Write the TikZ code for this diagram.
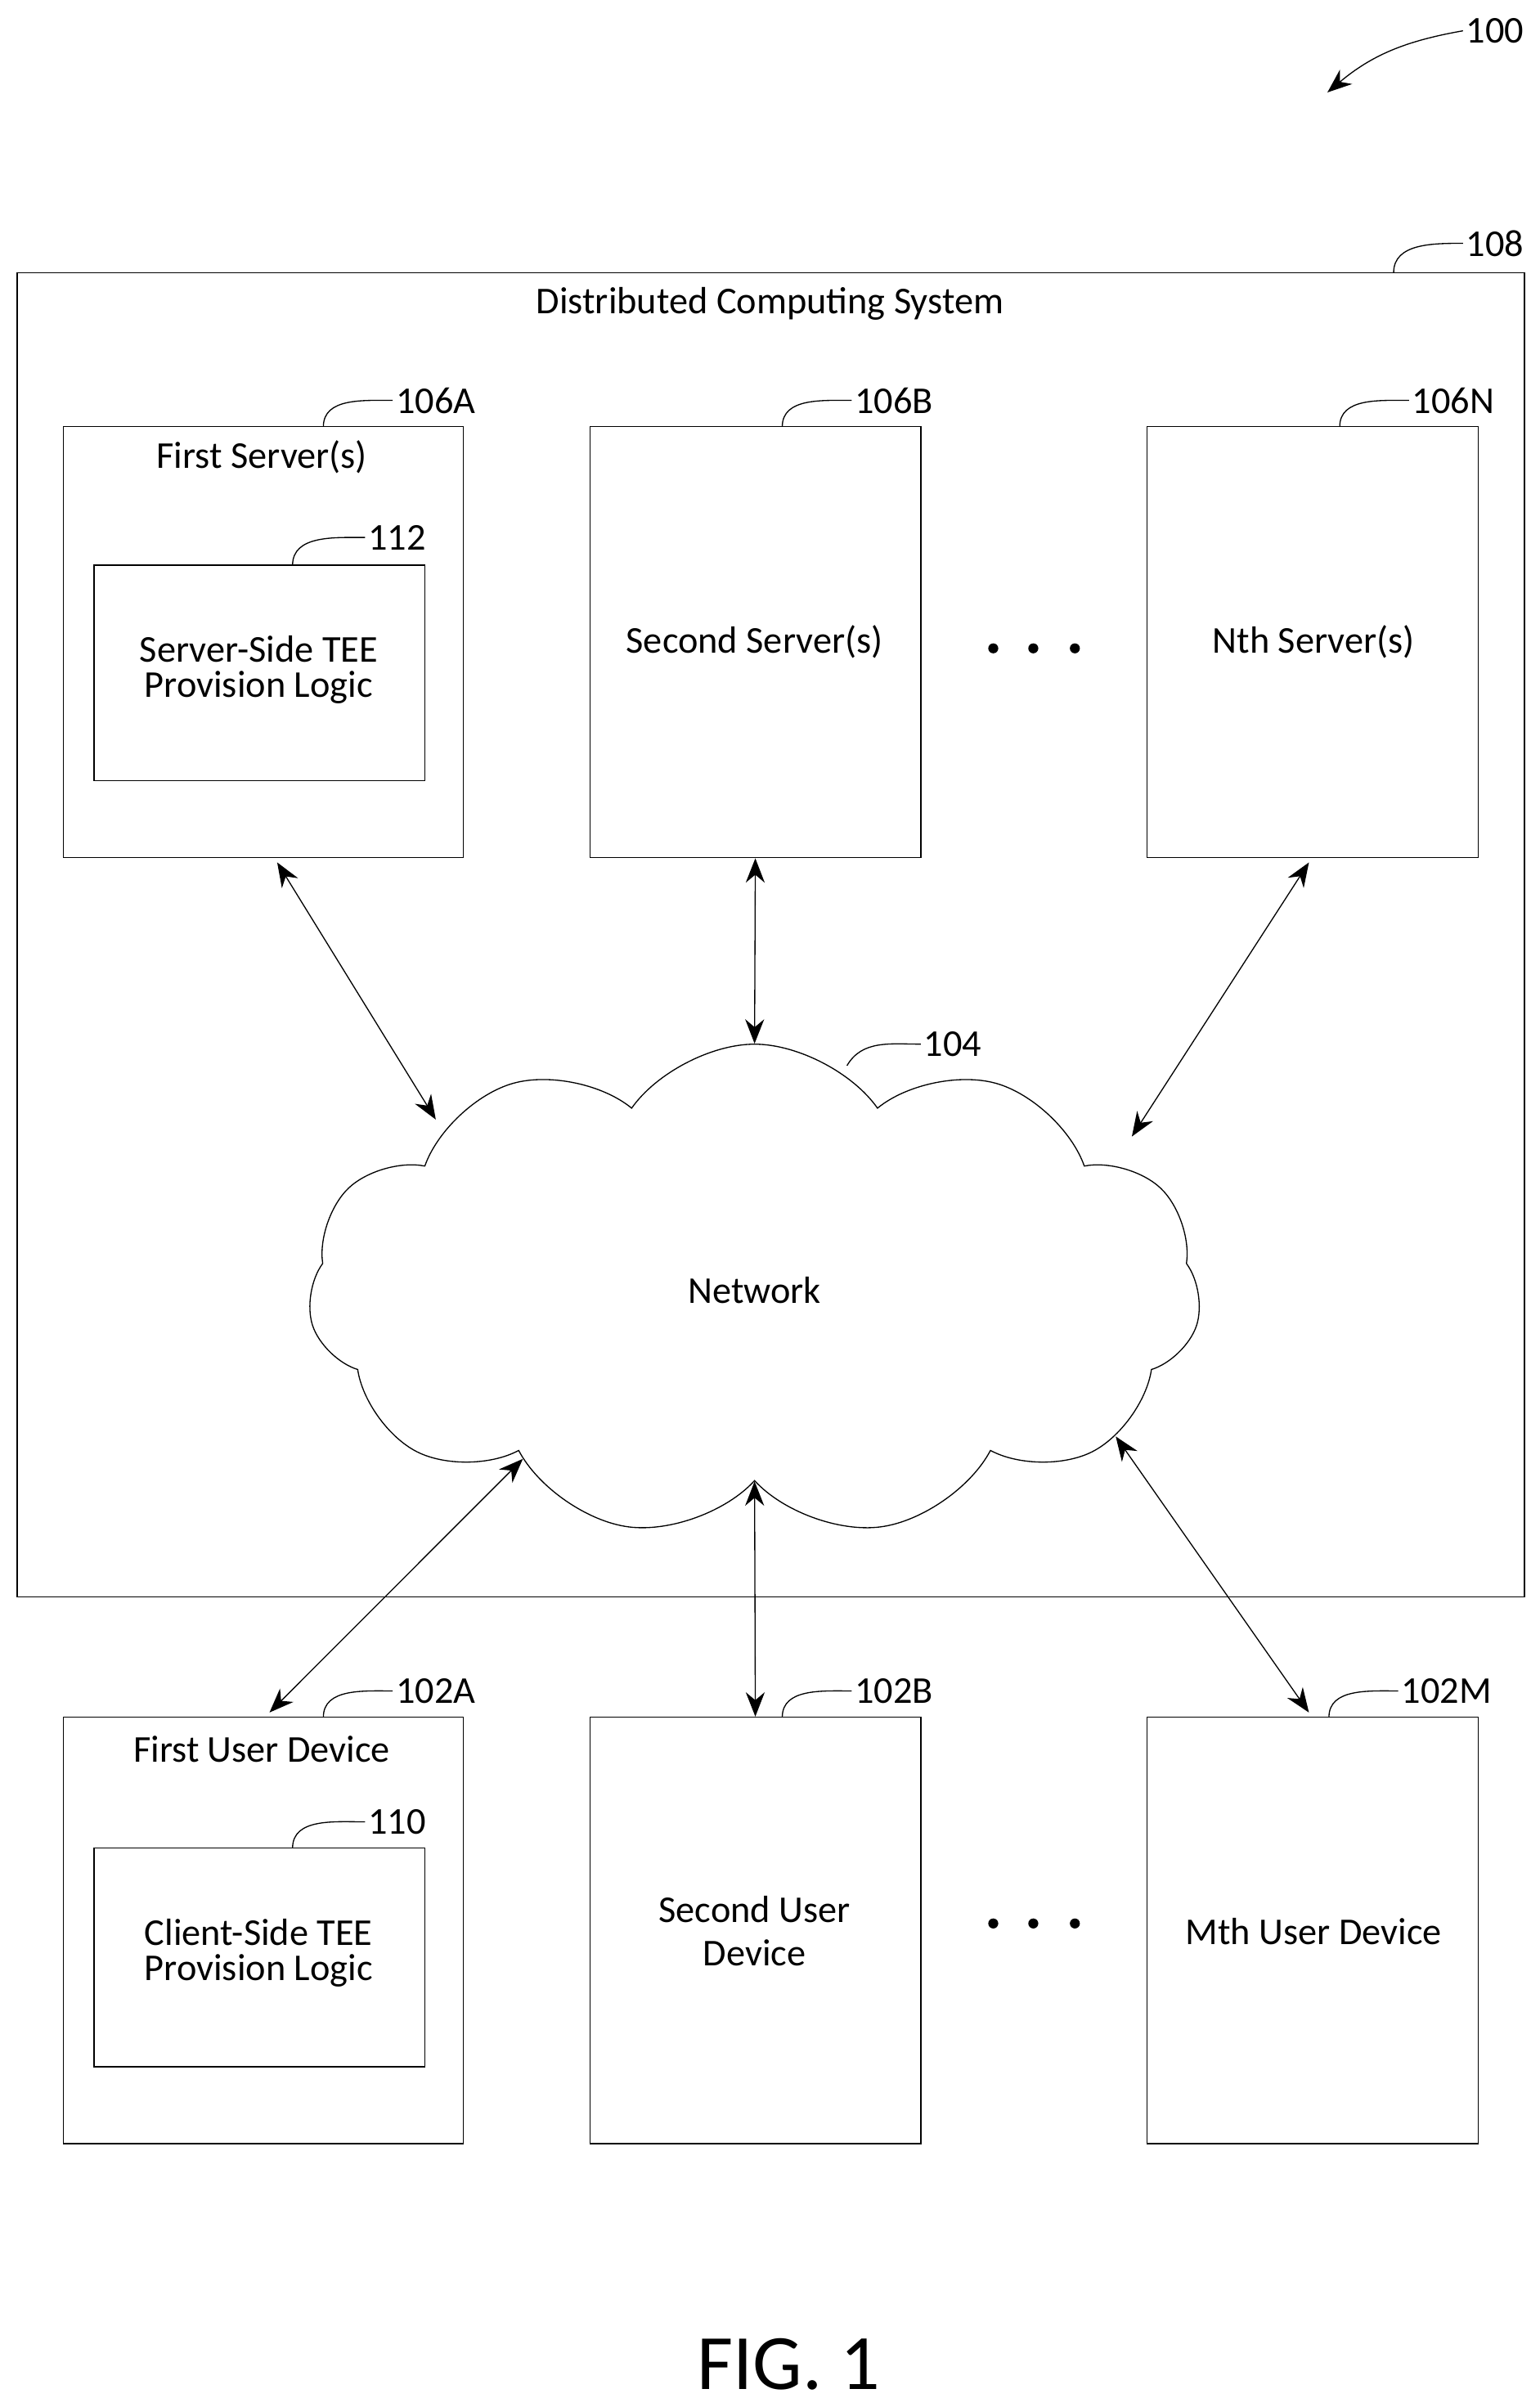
\documentclass[tikz,border=0pt]{standalone}
\usepackage{fontspec}
\setmainfont{Carlito}
\usetikzlibrary{arrows.meta, shapes.symbols}
\tikzset{
    box/.style={draw, thin, inner sep=0pt},
    txt/.style={font=\fontsize{14}{16}\selectfont, align=center},
    ref/.style={font=\fontsize{14}{16}\selectfont, anchor=west, inner sep=1pt},
    link/.style={thin, {Stealth[length=9pt,width=7pt]}-{Stealth[length=9pt,width=7pt]}},
    lead/.style={thin},
    dot/.style={circle, fill, inner sep=0pt, minimum size=0.13cm},
}
\begin{document}
\begin{tikzpicture}[x=0.02cm, y=-0.02cm]
    \useasboundingbox (0,0) rectangle (1000,1563);

    % outer system
    \node[box, minimum width=19.58cm, minimum height=17.2cm] (sys) at (500.5,607) {};
    \node[txt] (systxt) at (500,197) {Distributed Computing System};
    \coordinate (sysref) at (905,177);
    \node[ref] (sysnum) at (950,158) {108};
    \draw[lead] (sysref) to[out=90,in=180] (sysnum.west);

    % servers
    \node[box, minimum width=5.2cm, minimum height=5.6cm] (srvA) at (171,417) {};
    \node[txt] at (170,297) {First Server(s)};
    \node[box, minimum width=4.3cm, minimum height=2.8cm] (tees) at (168.5,437) {};
    \node[txt] at (168,435) {Server-Side TEE\\[-3pt]Provision Logic};
    \node[box, minimum width=4.3cm, minimum height=5.6cm] (srvB) at (490.5,417) {};
    \node[txt] at (490,417) {Second Server(s)};
    \node[box, minimum width=4.3cm, minimum height=5.6cm] (srvN) at (852.5,417) {};
    \node[txt] at (853,417) {Nth Server(s)};
    \foreach \x in {645,671,698}
        \node[dot] at (\x,421) {};

    \node[ref] (srvAnum) at (255,260) {106A};
    \draw[lead] (210,277) to[out=90,in=180] (srvAnum.west);
    \node[ref] (teesnum) at (237,349) {112};
    \draw[lead] (190,367) to[out=90,in=180] (teesnum.west);
    \node[ref] (srvBnum) at (553,260) {106B};
    \draw[lead] (508,277) to[out=90,in=180] (srvBnum.west);
    \node[ref] (srvNnum) at (915,260) {106N};
    \draw[lead] (870,277) to[out=90,in=180] (srvNnum.west);

    % network
    \node[cloud, draw, thin, cloud puffs=11, cloud puff arc=110, aspect=1.9,
        minimum width=11.6cm, minimum height=6.4cm] (net) at (490,838) {};
    \node[txt] at (490,838) {Network};
    \node[ref] (netnum) at (598,678) {104};
    \draw[lead] (550,692) to[out=60,in=180] (netnum.west);
    \coordinate (nettl) at (283,727);
    \coordinate (nettr) at (735,738);

    % user devices
    \node[box, minimum width=5.2cm, minimum height=5.54cm] (devA) at (171,1253.5) {};
    \node[txt] at (170,1136) {First User Device};
    \node[box, minimum width=4.3cm, minimum height=2.84cm] (teec) at (168.5,1271) {};
    \node[txt] at (168,1268) {Client-Side TEE\\[-3pt]Provision Logic};
    \node[box, minimum width=4.3cm, minimum height=5.54cm] (devB) at (490.5,1253.5) {};
    \node[txt] at (490,1254) {Second User\\Device};
    \node[box, minimum width=4.3cm, minimum height=5.54cm] (devM) at (852.5,1253.5) {};
    \node[txt] at (853,1254) {Mth User Device};
    \foreach \x in {645,671,698}
        \node[dot] at (\x,1249) {};

    \node[ref] (devAnum) at (255,1098) {102A};
    \draw[lead] (210,1115) to[out=90,in=180] (devAnum.west);
    \node[ref] (teecnum) at (237,1183) {110};
    \draw[lead] (190,1200) to[out=90,in=180] (teecnum.west);
    \node[ref] (devBnum) at (553,1098) {102B};
    \draw[lead] (508,1115) to[out=90,in=180] (devBnum.west);
    \node[ref] (devMnum) at (908,1098) {102M};
    \draw[lead] (863,1115) to[out=90,in=180] (devMnum.west);

    % links
    \coordinate (srvAl) at (180,560);
    \coordinate (srvNl) at (850,560);
    \coordinate (devAl) at (175,1112);
    \coordinate (devMl) at (850,1112);
    \draw[link] (srvAl) -- (nettl);
    \draw[link] (srvB.south) -- (net.north);
    \draw[link] (srvNl) -- (nettr);
    \draw[link] (devAl) -- (net.216);
    \draw[link] (devB.north) -- (net.south);
    \draw[link] (devMl) -- (net.338);

    % figure number
    \node[ref] (fignum) at (950,20) {100};
    \draw[thin, -{Stealth[length=9pt,width=7pt]}] (fignum.west) to[out=190,in=40] (862,60);
    \node[font=\fontsize{29}{32}\selectfont] (fig) at (512,1535) {FIG. 1};
\end{tikzpicture}
\end{document}
